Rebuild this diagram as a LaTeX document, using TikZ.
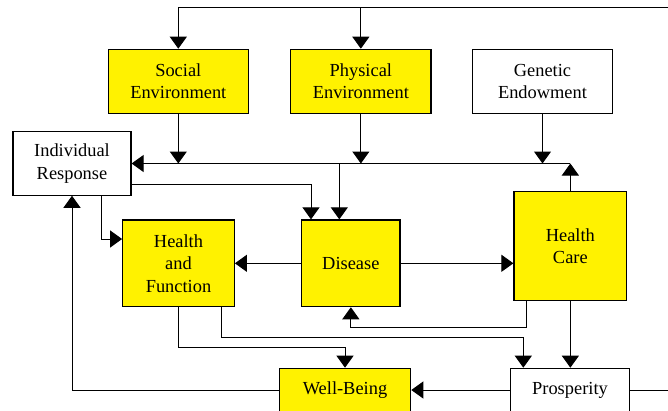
\documentclass[tikz,border=0pt]{standalone}
\usepackage{fontspec}
\newfontfamily\tnrfont{LiberationSerif}[Extension=.ttf, UprightFont=*-Regular]
\usetikzlibrary{arrows.meta}
\tikzset{
  box/.style={draw=black, line width=1.2pt, align=center, inner sep=0pt,
    font=\tnrfont\fontsize{18.4}{22.5}\selectfont, text=black},
  ybox/.style={box, fill=yellow},
  wbox/.style={box, fill=white},
  conn/.style={draw=black, line width=1pt},
  arr/.style={conn, -{Triangle[length=12pt,width=17pt]}}
}
\begin{document}
\begin{tikzpicture}[x=1pt,y=-1pt]
\useasboundingbox (0,0) rectangle (668,410);
\begin{scope}
\clip (0,0) rectangle (668,410);
% nodes
\node[ybox, minimum width=140pt, minimum height=64pt] (soc) at (178.3,81.3) {Social\\Environment};
\node[ybox, minimum width=140.3pt, minimum height=64pt] (phys) at (360.85,81.3) {Physical\\Environment};
\node[wbox, minimum width=140.4pt, minimum height=64pt] (gen) at (542.5,81.3) {Genetic\\Endowment};
\node[wbox, minimum width=118pt, minimum height=63.3pt] (ir) at (72,163.5) {Individual\\Response};
\node[ybox, minimum width=111.6pt, minimum height=86.7pt] (hf) at (178.5,263.3) {Health\\and\\Function};
\node[ybox, minimum width=98.3pt, minimum height=86.7pt] (dis) at (350.85,263.3) {Disease};
\node[ybox, minimum width=112.7pt, minimum height=109pt] (hc) at (570.35,246.35) {Health\\Care};
\node[ybox, minimum width=131.4pt, minimum height=43.4pt] (wb) at (345,390) {Well-Being};
\node[wbox, minimum width=118.6pt, minimum height=43.4pt] (pros) at (570,390) {Prosperity};
% top loop from Prosperity
\coordinate (tr) at (700,7.3);
\draw[arr] (pros.east) -| (tr) -| (soc.north);
\draw[arr] (phys.north |- tr) -- (phys.north);
% bus at y=163
\draw[arr] (hc.north) -- (hc.north |- ir.east);
\draw[arr] (hc.north |- ir.east) -- (ir.east);
\draw[arr] (soc.south) -- (soc.south |- ir.east);
\draw[arr] (phys.south) -- (phys.south |- ir.east);
\draw[arr] (gen.south) -- (gen.south |- ir.east);
\draw[arr] (339.3,0 |- ir.east) -- (339.3,0 |- dis.north);
% Individual response to disease and health
\draw[arr] (ir.east |- 0,184) -| (311,0 |- dis.north);
\draw[arr] (101.7,0 |- ir.south) |- (hf.west |- 0,239);
% disease outputs
\draw[arr] (dis.west) -- (hf.east |- dis.west);
\draw[arr] (dis.east) -- (hc.west |- dis.east);
% health care outputs
\draw[arr] (526.7,0 |- hc.south) |- (dis.south |- 0,327.5) -- (dis.south);
\draw[arr] (hc.south) -- (hc.south |- pros.north);
% health and function outputs
\draw[arr] (hf.south) -- (hf.south |- 0,347.7) -| (wb.north);
\draw[arr] (221.7,0 |- hf.south) -- (221.7,337.3) -| (523.3,0 |- pros.north);
% prosperity to well-being
\draw[arr] (pros.west) -- (wb.east);
% well-being back to individual response
\draw[arr] (wb.west) -| (ir.south);
\end{scope}
\end{tikzpicture}
\end{document}
